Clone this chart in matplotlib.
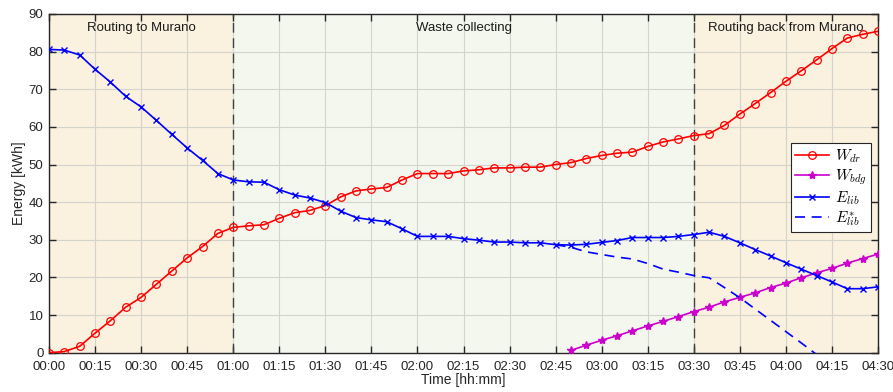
import matplotlib.pyplot as plt

plt.rcParams['font.family'] = ['Liberation Sans', 'DejaVu Sans']
plt.rcParams['mathtext.fontset'] = 'cm'

# time in minutes, one sample every 5 minutes
t = list(range(0, 275, 5))

w_dr = [0.0, 0.3, 1.7, 5.2, 8.5, 12.1, 14.7, 18.2, 21.7, 25.2, 28.2, 31.7,
        33.3, 33.7, 34.0, 35.7, 37.2, 37.8, 39.1, 41.4, 43.0, 43.5, 43.9, 45.9,
        47.6, 47.6, 47.6, 48.3, 48.6, 49.1, 49.1, 49.3, 49.3, 50.0, 50.5, 51.6,
        52.4, 53.0, 53.3, 54.8, 56.0, 56.8, 57.7, 58.2, 60.4, 63.4, 66.2, 69.1,
        72.1, 74.9, 77.8, 80.8, 83.6, 84.6, 85.4]

e_lib = [80.6, 80.4, 79.1, 75.3, 71.9, 68.1, 65.3, 61.7, 58.0, 54.4, 51.1, 47.6,
         45.9, 45.4, 45.3, 43.3, 41.9, 41.1, 39.9, 37.6, 35.9, 35.3, 34.8, 32.9,
         30.9, 30.9, 30.9, 30.3, 29.9, 29.4, 29.4, 29.2, 29.2, 28.7, 28.6, 28.8,
         29.3, 29.8, 30.6, 30.6, 30.6, 30.9, 31.4, 32.0, 30.9, 29.2, 27.4, 25.7,
         23.9, 22.2, 20.5, 18.8, 17.0, 17.0, 17.5]

t_bdg = list(range(170, 275, 5))
w_bdg = [0.6, 2.0, 3.3, 4.5, 5.8, 7.1, 8.3, 9.6, 10.9, 12.1, 13.5, 14.7, 15.9,
         17.3, 18.5, 19.9, 21.2, 22.4, 23.8, 25.0, 26.2]

t_star = list(range(165, 275, 5))
e_star = [28.7, 28.0, 26.8, 26.1, 25.4, 24.9, 23.7, 22.2, 21.4, 20.5, 19.9,
          17.3, 14.6, 11.6, 8.6, 5.6, 2.6, -0.5, -3.6, -6.8, -8.0, -8.7]

phase_names = ['Routing to Murano', 'Waste collecting', 'Routing back from Murano']
phase_edges = [0, 60, 210, 270]
phase_colors = ['#faf1de', '#f4f7ee', '#faf1de']

xtick_pos = list(range(0, 275, 15))
xtick_lab = ['%02d:%02d' % (m // 60, m % 60) for m in xtick_pos]

fig = plt.figure(figsize=(8.93, 3.92), dpi=100)
ax = fig.add_axes([0.0549, 0.1003, 0.9283, 0.864])

for i, name in enumerate(phase_names):
    a, b = phase_edges[i], phase_edges[i + 1]
    ax.axvspan(a, b, color=phase_colors[i], zorder=0, lw=0)
    ax.text((a + b) / 2, 86.3, name, ha='center', va='center', fontsize=9.5, color='#1a1a1a')
for x in phase_edges[1:-1]:
    ax.axvline(x, color='#404040', ls=(0, (7, 4)), lw=1.0, zorder=1)

ax.plot(t, w_dr, color='red', marker='o', ms=5.5, mfc='none', mew=0.9, lw=1.2,
        label='$W_{dr}$', zorder=3)
ax.plot(t_bdg, w_bdg, color='#cc00cc', marker='*', ms=6, lw=1.2,
        label='$W_{bdg}$', zorder=3)
ax.plot(t, e_lib, color='blue', marker='x', ms=4, mew=1.0, lw=1.2,
        label='$E_{lib}$', zorder=3)
ax.plot(t_star, e_star, color='blue', ls=(0, (6, 4)), lw=1.2,
        label='$E^{*}_{lib}$', zorder=3)

ax.set_xlim(0, 270)
ax.set_ylim(0, 90)
ax.set_xticks(xtick_pos)
ax.set_xticklabels(xtick_lab)
ax.set_yticks(range(0, 100, 10))
ax.grid(True, color='#d4d4cc', lw=0.8, zorder=0.5)
ax.set_axisbelow(True)
ax.tick_params(direction='in', top=True, right=True, length=5, width=1,
               labelsize=9.5, colors='#262626')
ax.tick_params(axis='x', pad=6)
ax.tick_params(axis='y', pad=4)
for s in ax.spines.values():
    s.set_color('#262626')
    s.set_linewidth(1.0)
ax.set_xlabel('Time [hh:mm]', fontsize=10, color='#262626', labelpad=0)
ax.set_ylabel('Energy [kWh]', fontsize=10, color='#262626', labelpad=2)

leg = ax.legend(loc='upper right', bbox_to_anchor=(0.992, 0.62), fontsize=11,
                fancybox=False, framealpha=1, edgecolor='#262626',
                handlelength=2.2, borderpad=0.3, labelspacing=0.15,
                handletextpad=0.4, borderaxespad=0)
leg.get_frame().set_linewidth(0.8)

fig.savefig('out.png', dpi=100)
